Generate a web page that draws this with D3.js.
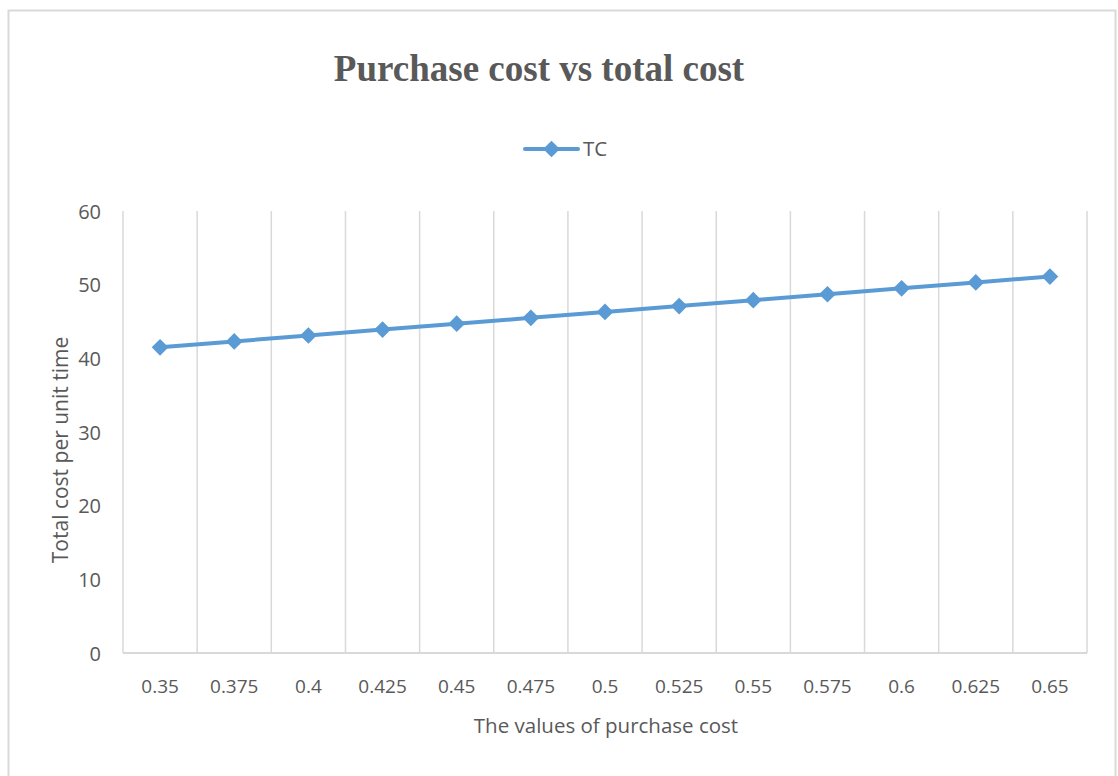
<!DOCTYPE html>
<html>
<head>
<meta charset="utf-8">
<script src="https://cdn.jsdelivr.net/npm/d3@7"></script>
<style>
  body { margin: 0; background: #fff; }
  text { fill: #595959; }
</style>
</head>
<body>
<div id="chart"></div>
<script>
// Data
const categories = ['0.35', '0.375', '0.4', '0.425', '0.45', '0.475', '0.5', '0.525', '0.55', '0.575', '0.6', '0.625', '0.65']
const tcValues = [41.5, 42.3, 43.1, 43.9, 44.7, 45.5, 46.3, 47.1, 47.9, 48.7, 49.5, 50.3, 51.1]
const yTicks = [0, 10, 20, 30, 40, 50, 60]

const width = 1118
const height = 776
const plot = { left: 123, right: 1087, top: 211, bottom: 653 }
const blue = '#5b9bd5'
const grid = '#d9d9d9'
const font = '"Open Sans", sans-serif'

const svg = d3.select('#chart')
  .append('svg')
  .attr('width', width)
  .attr('height', height)

// Outer border (no bottom edge visible)
svg.append('path')
  .attr('d', `M8.5,${height} V10.5 H1115.5 V${height}`)
  .attr('fill', 'none')
  .attr('stroke', grid)
  .attr('stroke-width', 2)

// Scales
const xScale = d3.scaleBand()
  .domain(categories)
  .range([plot.left, plot.right])

const yScale = d3.scaleLinear()
  .domain([0, 60])
  .range([plot.bottom, plot.top])

// Vertical gridlines at band edges
const edges = categories.map(c => xScale(c)).concat([plot.right])
svg.append('g')
  .selectAll('line')
  .data(edges)
  .enter().append('line')
  .attr('x1', d => d).attr('x2', d => d)
  .attr('y1', plot.top).attr('y2', plot.bottom)
  .attr('stroke', grid)
  .attr('stroke-width', 1.5)

// Bottom axis line
svg.append('line')
  .attr('x1', plot.left).attr('x2', plot.right)
  .attr('y1', plot.bottom).attr('y2', plot.bottom)
  .attr('stroke', grid)
  .attr('stroke-width', 2)

// Y axis labels
const yAxis = svg.append('g')
  .attr('transform', `translate(${plot.left - 22}, 0)`)
  .call(d3.axisLeft(yScale).tickValues(yTicks).tickSize(0).tickPadding(0))
yAxis.select('.domain').remove()
yAxis.selectAll('text')
  .attr('font-family', font)
  .attr('font-size', 20)
  .attr('fill', '#595959')
  .attr('dy', '0.35em')

// X axis labels
const xAxis = svg.append('g')
  .attr('transform', `translate(0, ${plot.bottom})`)
  .call(d3.axisBottom(xScale).tickSize(0).tickPadding(27))
xAxis.select('.domain').remove()
xAxis.selectAll('text')
  .attr('font-family', font)
  .attr('font-size', 19)
  .attr('fill', '#595959')

// Line
const line = d3.line()
  .x((d, i) => xScale(categories[i]) + xScale.bandwidth() / 2)
  .y(d => yScale(d))

svg.append('path')
  .datum(tcValues)
  .attr('d', line)
  .attr('fill', 'none')
  .attr('stroke', blue)
  .attr('stroke-width', 4)
  .attr('stroke-linejoin', 'round')

const diamond = d3.symbol().type(d3.symbolSquare).size(140)

svg.append('g')
  .selectAll('path')
  .data(tcValues)
  .enter().append('path')
  .attr('d', diamond)
  .attr('fill', blue)
  .attr('transform', (d, i) => `translate(${xScale(categories[i]) + xScale.bandwidth() / 2}, ${yScale(d)}) rotate(45)`)

// Title
svg.append('text')
  .text('Purchase cost vs total cost')
  .attr('x', 539)
  .attr('y', 81)
  .attr('text-anchor', 'middle')
  .attr('font-family', '"Liberation Serif", "Times New Roman", serif')
  .attr('font-weight', 'bold')
  .attr('font-size', 37)
  .attr('fill', '#595959')

// Legend
const legend = svg.append('g').attr('transform', 'translate(525, 149)')
legend.append('line')
  .attr('x1', 0).attr('x2', 53)
  .attr('stroke', blue)
  .attr('stroke-width', 4)
  .attr('stroke-linecap', 'round')
legend.append('path')
  .attr('d', diamond)
  .attr('fill', blue)
  .attr('transform', 'translate(26.5, 0) rotate(45)')
legend.append('text')
  .text('TC')
  .attr('x', 58)
  .attr('dy', '0.36em')
  .attr('font-family', font)
  .attr('font-size', 20.5)

// Axis titles
svg.append('text')
  .text('The values of purchase cost')
  .attr('x', 606)
  .attr('y', 733)
  .attr('text-anchor', 'middle')
  .attr('font-family', font)
  .attr('font-size', 20.5)

svg.append('text')
  .text('Total cost per unit time')
  .attr('transform', 'translate(68, 450) rotate(-90)')
  .attr('text-anchor', 'middle')
  .attr('font-family', font)
  .attr('font-size', 21)
</script>
</body>
</html>
